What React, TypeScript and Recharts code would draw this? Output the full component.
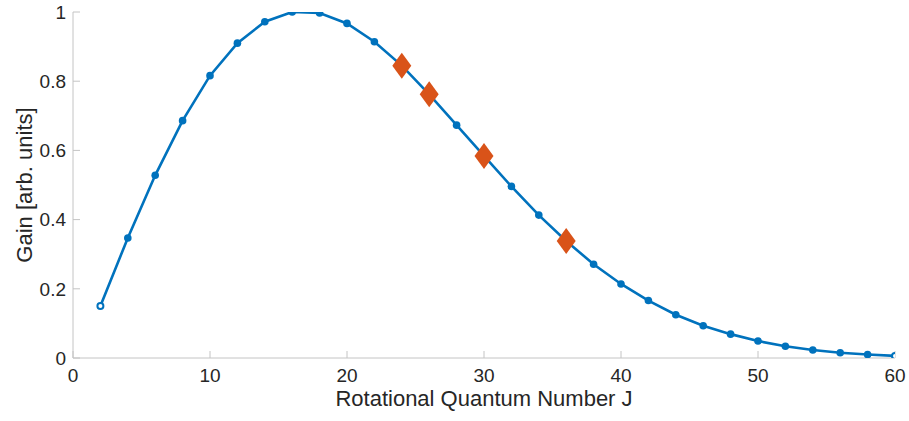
import { ComposedChart, Line, Scatter, XAxis, YAxis, Label } from 'recharts';

// rotational levels J (even) and their relative gain
const jLevels = [2, 4, 6, 8, 10, 12, 14, 16, 18, 20, 22, 24, 26, 28, 30, 32, 34, 36, 38, 40, 42, 44, 46, 48, 50, 52, 54, 56, 58, 60];
const gainValues = [
  0.150, 0.347, 0.528, 0.686, 0.816, 0.910, 0.972, 1.000, 0.997, 0.967,
  0.914, 0.845, 0.762, 0.673, 0.584, 0.496, 0.413, 0.338, 0.271, 0.214,
  0.166, 0.125, 0.093, 0.069, 0.049, 0.034, 0.023, 0.015, 0.010, 0.006,
];

// highlighted levels
const markedJ = [24, 26, 30, 36];
const markedGain = [0.845, 0.762, 0.584, 0.338];

const xTicks = [0, 10, 20, 30, 40, 50, 60];
const yTicks = [0, 0.2, 0.4, 0.6, 0.8, 1];

const curve = jLevels.map((J, i) => ({ J, gain: gainValues[i] }));
const marked = markedJ.map((J, i) => ({ J, gain: markedGain[i] }));

const BLUE = '#0072BD';
const ORANGE = '#D95319';
const TEXT = '#262626';
const FONT = '"Liberation Sans", Arial, Helvetica, sans-serif';

function Dot(props: any) {
  const { cx, cy, index } = props;
  const end = index === 0 || index === curve.length - 1;
  if (end) {
    return <circle key={index} cx={cx} cy={cy} r={3} fill="#fff" stroke={BLUE} strokeWidth={2} />;
  }
  return <circle key={index} cx={cx} cy={cy} r={3.8} fill={BLUE} stroke="none" />;
}

function Diamond(props: any) {
  const { cx, cy } = props;
  const w = 9.5;
  const h = 13;
  return (
    <polygon
      points={`${cx},${cy - h} ${cx + w},${cy} ${cx},${cy + h} ${cx - w},${cy}`}
      fill={ORANGE}
    />
  );
}

function YLabel(props: any) {
  const { viewBox } = props;
  const cy = viewBox.y + viewBox.height / 2;
  const cx = 32;
  return (
    <text
      x={cx}
      y={cy}
      transform={`rotate(-90, ${cx}, ${cy})`}
      textAnchor="middle"
      fontSize={22}
      fill={TEXT}
      fontFamily={FONT}
    >
      Gain [arb. units]
    </text>
  );
}

function XLabel(props: any) {
  const { viewBox } = props;
  const cx = viewBox.x + viewBox.width / 2;
  return (
    <text x={cx} y={406} textAnchor="middle" fontSize={22} fill={TEXT} fontFamily={FONT}>
      Rotational Quantum Number J
    </text>
  );
}

export default function App() {
  return (
    <div style={{ position: 'absolute', left: 0, top: 0, background: '#fff' }}>
      <ComposedChart
        width={909}
        height={421}
        data={curve}
        margin={{ top: 12, right: 14, bottom: 0, left: 0 }}
      >
        <XAxis
          dataKey="J"
          type="number"
          domain={[0, 60]}
          ticks={xTicks}
          allowDataOverflow
          height={63}
          stroke="#c4c4c4"
          tickSize={-7}
          tickMargin={18}
          tick={{ fill: TEXT, fontSize: 19, fontFamily: FONT }}
        >
          <Label content={<XLabel />} />
        </XAxis>
        <YAxis
          type="number"
          domain={[0, 1]}
          ticks={yTicks}
          allowDataOverflow
          width={73}
          stroke="#c4c4c4"
          tickSize={-7}
          tickMargin={14}
          tickFormatter={(v: number) => String(v)}
          tick={{ fill: TEXT, fontSize: 19, fontFamily: FONT }}
        >
          <Label content={<YLabel />} />
        </YAxis>
        <Line
          dataKey="gain"
          stroke={BLUE}
          strokeWidth={2.6}
          dot={<Dot />}
          activeDot={false}
          isAnimationActive={false}
        />
        <Scatter
          data={marked}
          dataKey="gain"
          shape={<Diamond />}
          isAnimationActive={false}
        />
      </ComposedChart>
    </div>
  );
}
